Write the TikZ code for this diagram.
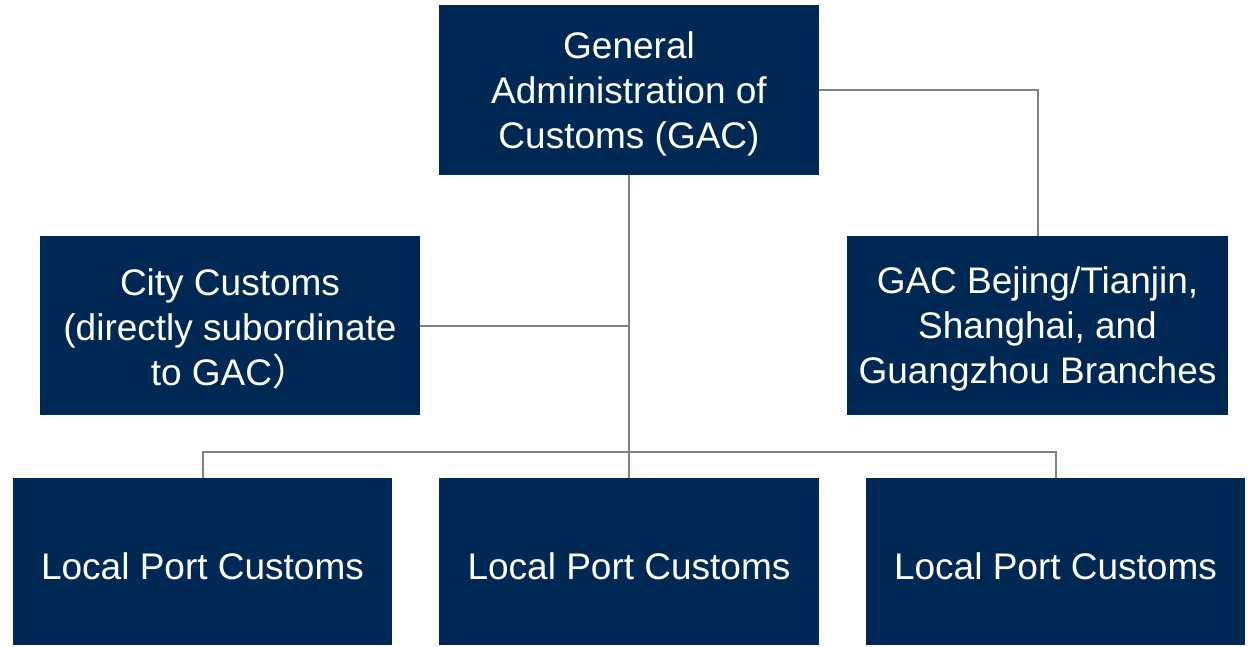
\documentclass[tikz,border=0pt]{standalone}
\usepackage{fontspec}
\setmainfont{Liberation Sans}
\newfontfamily\cjk{Noto Sans CJK SC}
\definecolor{boxnavy}{RGB}{0,40,85}
\definecolor{conngray}{RGB}{128,128,128}
\begin{document}
\begin{tikzpicture}[x=1pt,y=-1pt,
  box/.style={fill=boxnavy, draw=none, inner sep=0pt},
  txt/.style={inner sep=0pt, text=white, align=center,
    font=\fontsize{37}{45}\selectfont},
  conn/.style={draw=conngray, line width=2pt}]
\useasboundingbox (0,0) rectangle (1251,646);
\node[box, minimum width=380pt, minimum height=170pt] (gac) at (629,90) {};
\node[box, minimum width=380pt, minimum height=179pt] (city) at (230,325.5) {};
\node[box, minimum width=381pt, minimum height=179pt] (branch) at (1037.5,325.5) {};
\node[box, minimum width=379pt, minimum height=167pt] (lpc1) at (202.5,561.5) {};
\node[box, minimum width=380pt, minimum height=167pt] (lpc2) at (629,561.5) {};
\node[box, minimum width=379pt, minimum height=167pt] (lpc3) at (1055.5,561.5) {};
\node[txt] (gact) at ([yshift=-3.5pt]gac.center)
  {General\\Administration of\\Customs (GAC)};
\node[txt] (cityt) at ([yshift=-3.5pt]city.center)
  {City Customs\\(directly subordinate\\to GAC{\cjk ）}};
\node[txt] (brancht) at ([yshift=-3.5pt]branch.center)
  {GAC Bejing/Tianjin,\\Shanghai, and\\Guangzhou Branches};
\node[txt] (lpc1t) at ([yshift=-4.5pt]lpc1.center) {Local Port Customs};
\node[txt] (lpc2t) at ([yshift=-4.5pt]lpc2.center) {Local Port Customs};
\node[txt] (lpc3t) at ([yshift=-4.5pt]lpc3.center) {Local Port Customs};
\draw[conn] (gac.south) -- (lpc2.north);
\draw[conn] (lpc1.north) -- ++(0,-25.5) -| (lpc3.north);
\draw[conn] (city.east) -- (city.east -| gac.south);
\draw[conn] (gac.east) -| (branch.north);
\end{tikzpicture}
\end{document}
